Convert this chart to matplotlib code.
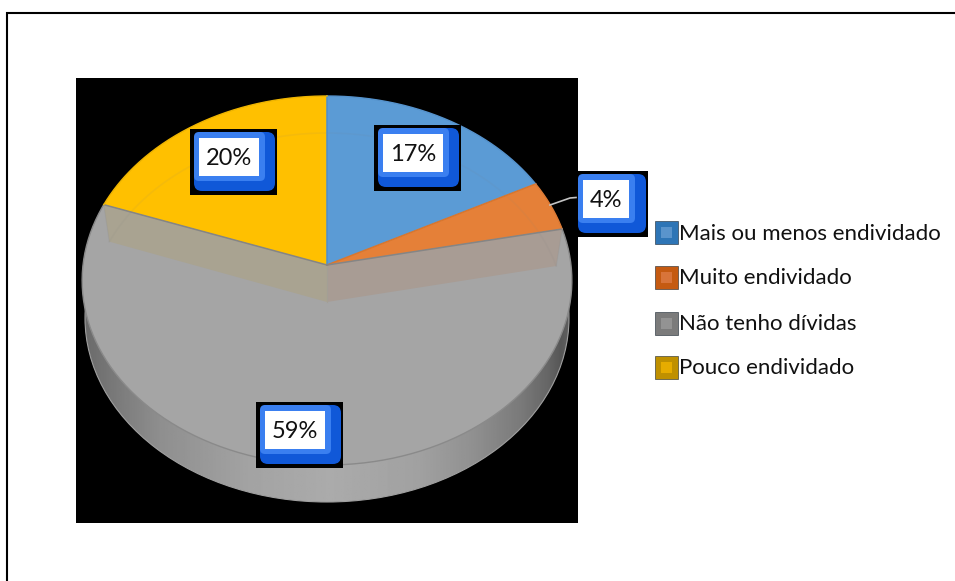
import matplotlib
matplotlib.use('Agg')
import matplotlib.pyplot as plt
from matplotlib.patches import FancyBboxPatch, Rectangle, Ellipse
import numpy as np

plt.rcParams['font.family'] = ['Lato', 'DejaVu Sans']

categories = ['Mais ou menos endividado', 'Muito endividado', 'Não tenho dívidas', 'Pouco endividado']
shares = [17.4, 4.4, 58.7, 19.5]
labels = ['17%', '4%', '59%', '20%']
colors = ['#5b9bd5', '#e58038', '#a5a5a5', '#ffc000']
edge_colors = ['#5592cc', '#dc7a35', '#8a8a8a', '#eeb400']
swatch_dark = ['#2e75b6', '#c55a11', '#7b7b7b', '#bf9000']
swatch_light = ['#5a94cc', '#d8743a', '#939393', '#e6ac00']

# black box corner of each data label
label_boxes = [(374, 125), (578, 171), (256, 402), (190, 129)]
label_widths = [87, 70, 87, 87]

# pie projection
cx, cy = 327, 265
rx, ry, k = 244, 183.2, 0.084


def project(theta):
    u, v = np.sin(theta), np.cos(theta)
    d = 1 + k * v
    return cx + rx * u / d, cy - ry * v / d


fig = plt.figure(figsize=(9.55, 5.81), dpi=100)
ax = fig.add_axes([0, 0, 1, 1])
ax.set_xlim(0, 955)
ax.set_ylim(581, 0)
ax.axis('off')

# frame, open on the right and at the bottom
ax.plot([7, 7, 955], [581, 13, 13], color='black', lw=1.5, solid_joinstyle='miter')

ax.add_patch(Rectangle((76, 78), 502, 445, fc='black', ec='none', zorder=1))

# rim with gradient
rim = Ellipse((327, 318), 484, 368, fc='none', ec='#a0a0a0', lw=0.8, zorder=3)
ax.add_patch(rim)
xs = np.linspace(80, 575, 300)
shade = np.interp(xs, [85, 110, 160, 250, 330, 420, 470, 520, 548, 560, 570],
                  [0.42, 0.47, 0.56, 0.64, 0.67, 0.63, 0.57, 0.48, 0.40, 0.34, 0.38])
im = ax.imshow(shade[None, :], extent=(80, 575, 510, 250), cmap='gray', vmin=0, vmax=1,
               aspect='auto', zorder=2)
im.set_clip_path(rim)
ax.set_xlim(0, 955)
ax.set_ylim(581, 0)

# top slices
edges = np.cumsum([0] + shares) / 100 * 2 * np.pi
for i in range(len(shares)):
    t = np.linspace(edges[i], edges[i + 1], 200)
    x, y = project(t)
    ax.fill(np.r_[cx, x], np.r_[cy, y], fc=colors[i], ec='none', zorder=4)
    ax.plot(x, y, color=edge_colors[i], lw=1.0, zorder=7)

# separators
for i, e in enumerate(edges[:-1]):
    x, y = project(e)
    sep = ['#4f8fca', '#d9772f', '#858585', '#858585'][i]
    ax.plot([cx, x], [cy, y], color=sep, lw=1.1, zorder=6)

# floor of the pie seen through the top
shift = 37
scale = 0.975


def floor_pts(theta):
    x, y = project(theta)
    return cx + (x - cx) * scale, y + shift


x2, y2 = project(edges[2])
x3, y3 = project(edges[3])
fx2, fy2 = floor_pts(edges[2])
fx3, fy3 = floor_pts(edges[3])
ax.fill([x3, fx3, cx, cx], [y3, fy3, cy + shift, cy], fc='#a9a391', ec='none', zorder=5)
ax.fill([cx, cx, fx2, x2], [cy, cy + shift, fy2, y2], fc='#a89c94', ec='none', zorder=5)
ax.plot([cx, cx], [cy, cy + shift], color='#a39f95', lw=0.8, zorder=5)

t_back = np.linspace(edges[3] - 2 * np.pi, edges[2], 300)
fx, fy = floor_pts(t_back)
ax.plot(fx, fy, color='#808080', alpha=0.08, lw=1.2, zorder=5)
ax.plot([x3, fx3], [y3, fy3], color='#909090', alpha=0.25, lw=0.8, zorder=5)
ax.plot([x2, fx2], [y2, fy2], color='#909090', alpha=0.25, lw=0.8, zorder=5)

# leader line of the small slice
ax.plot([550, 570, 576], [205, 198, 197.5], color='#c4c4c4', lw=1.2, zorder=8)

# data labels
for lab, (x0, y0), w in zip(labels, label_boxes, label_widths):
    wide = w > 80
    ax.add_patch(Rectangle((x0, y0), w, 66, fc='black', ec='none', zorder=9))
    bx = x0 + 4 if wide else x0
    bw = w - 6 if wide else w - 2
    wx = x0 + 9 if wide else x0 + 5
    ww = 60 if wide else 46
    # dark blue body, bright blue top left, white text area
    ax.add_patch(FancyBboxPatch((bx + 7, y0 + 10), bw - 14, 45,
                                boxstyle='round,pad=7,rounding_size=8', fc='#1058d8', ec='none',
                                zorder=10))
    ax.add_patch(FancyBboxPatch((bx + 4, y0 + 7), wx + ww + 2 - bx - 4, 41,
                                boxstyle='round,pad=4,rounding_size=5', fc='#3a7ff0', ec='none',
                                zorder=11))
    ax.add_patch(Rectangle((wx, y0 + 9), ww, 38, fc='white', ec='none', zorder=12))
    ax.text(wx + ww / 2, y0 + 29.5, lab, ha='center', va='center', fontsize=17, color='#111111', zorder=13)

# legend
legend_y = [221, 266, 312, 356]
for name, y0, dark, light in zip(categories, legend_y, swatch_dark, swatch_light):
    ax.add_patch(Rectangle((654.5, y0), 23, 23, fc=dark, ec='#1a2630', lw=0.4, zorder=3))
    ax.add_patch(Rectangle((661, y0 + 6), 11, 11, fc=light, ec='none', zorder=4))
    ax.text(679, y0 + 12.5, name, ha='left', va='center', fontsize=16.05, color='#111111', zorder=4)

fig.savefig('out.png', dpi=100)
